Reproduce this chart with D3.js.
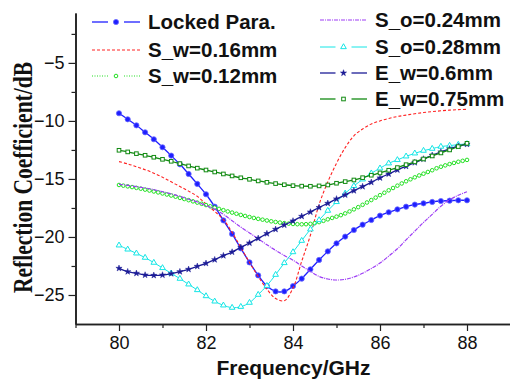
<!DOCTYPE html>
<html>
<head>
<meta charset="utf-8">
<script src="https://cdn.jsdelivr.net/npm/d3@7"></script>
<style>
  body { margin: 0; background: #fff; }
  svg text { font-family: "Liberation Sans", Arial, sans-serif; }
</style>
</head>
<body>
<svg id="chart" width="510" height="381"></svg>
<script>
// frequency grids (GHz)
var freq02 = d3.range(0, 41).map(i => +(80 + i * 0.2).toFixed(1));
var freq01 = d3.range(0, 81).map(i => +(80 + i * 0.1).toFixed(1));

// reflection coefficient values (dB)
var lockedPara = [-9.34,-9.86,-10.38,-10.98,-11.58,-12.27,-12.99,-13.74,-14.57,-15.43,
  -16.32,-17.39,-18.57,-19.74,-20.98,-22.19,-23.31,-24.23,-24.69,-24.69,
  -24.23,-23.59,-22.79,-21.98,-21.24,-20.55,-19.97,-19.40,-18.94,-18.54,
  -18.16,-17.87,-17.62,-17.39,-17.21,-17.10,-16.98,-16.90,-16.87,-16.84,-16.84];
var sw016 = [-13.51,-13.70,-13.95,-14.20,-14.50,-14.85,-15.25,-15.65,-16.05,-16.50,
  -17.15,-17.80,-18.50,-19.60,-20.90,-22.20,-23.40,-24.50,-25.30,-25.50,
  -24.40,-22.10,-19.85,-17.20,-15.25,-13.65,-12.30,-11.28,-10.70,-10.27,
  -10.00,-9.79,-9.62,-9.50,-9.38,-9.28,-9.20,-9.13,-9.07,-9.03,-9.00];
var sw012 = [-15.52,-15.58,-15.64,-15.70,-15.77,-15.84,-15.92,-16.00,-16.08,-16.16,
  -16.25,-16.34,-16.43,-16.53,-16.63,-16.73,-16.83,-16.93,-17.04,-17.14,
  -17.25,-17.36,-17.47,-17.58,-17.69,-17.80,-17.90,-18.00,-18.10,-18.19,
  -18.28,-18.36,-18.44,-18.51,-18.58,-18.65,-18.71,-18.76,-18.81,-18.85,
  -18.88,-18.90,-18.91,-18.90,-18.87,-18.81,-18.72,-18.61,-18.48,-18.36,
  -18.25,-18.12,-17.97,-17.80,-17.62,-17.43,-17.23,-17.03,-16.82,-16.61,
  -16.40,-16.19,-15.98,-15.78,-15.58,-15.39,-15.20,-15.03,-14.86,-14.70,
  -14.55,-14.40,-14.25,-14.08,-13.95,-13.83,-13.72,-13.62,-13.52,-13.44,-13.36];
var so024 = [-15.46,-15.55,-15.66,-15.78,-15.92,-16.10,-16.28,-16.50,-16.75,-16.98,
  -17.30,-17.60,-18.05,-18.60,-19.15,-19.65,-20.15,-20.67,-21.15,-21.60,
  -22.00,-22.50,-22.98,-23.40,-23.62,-23.71,-23.65,-23.45,-23.13,-22.72,
  -22.25,-21.65,-21.02,-20.25,-19.50,-18.75,-18.05,-17.35,-16.80,-16.40,-16.10];
var so028 = [-20.72,-21.07,-21.41,-21.78,-22.21,-22.67,-23.13,-23.59,-24.08,-24.57,
  -25.09,-25.55,-25.89,-26.09,-26.01,-25.66,-24.97,-24.20,-23.25,-22.24,
  -21.30,-20.32,-19.34,-18.54,-17.73,-16.98,-16.24,-15.60,-15.03,-14.51,
  -14.08,-13.65,-13.36,-13.05,-12.79,-12.56,-12.39,-12.21,-12.13,-12.04,-11.98];
var ew06 = [-22.70,-22.99,-23.13,-23.28,-23.31,-23.28,-23.16,-22.99,-22.79,-22.53,
  -22.27,-21.96,-21.61,-21.30,-20.89,-20.52,-20.12,-19.71,-19.34,-18.97,
  -18.62,-18.22,-17.85,-17.46,-17.10,-16.72,-16.38,-16.01,-15.66,-15.29,
  -14.91,-14.57,-14.22,-13.91,-13.59,-13.28,-12.96,-12.67,-12.41,-12.18,-12.01];
var ew075 = [-12.53,-12.67,-12.82,-12.96,-13.13,-13.31,-13.48,-13.68,-13.88,-14.07,
  -14.23,-14.40,-14.57,-14.74,-14.90,-15.03,-15.17,-15.29,-15.40,-15.50,
  -15.58,-15.62,-15.63,-15.60,-15.52,-15.37,-15.23,-15.09,-14.89,-14.68,
  -14.48,-14.25,-14.02,-13.77,-13.53,-13.28,-13.02,-12.76,-12.50,-12.21,-11.93];

var xTicks = [80, 82, 84, 86, 88];
var yTicks = [-25, -20, -15, -10, -5];

var series = [
  {name:'Locked Para.', x:freq02, y:lockedPara, color:'#1f1fff', width:1.3, dash:null, marker:'circleFill', col:0},
  {name:'S_w=0.16mm', x:freq02, y:sw016, color:'#ff2222', width:1.1, dash:'3,2', marker:null, col:0},
  {name:'S_w=0.12mm', x:freq01, y:sw012, color:'#22e022', width:1.1, dash:'1,1.5', marker:'circle', col:0},
  {name:'S_o=0.24mm', x:freq02, y:so024, color:'#9d3cf5', width:1.2, dash:'4,1,1,1', marker:null, col:1},
  {name:'S_o=0.28mm', x:freq02, y:so028, color:'#14e6e6', width:1, dash:null, marker:'triangle', col:1},
  {name:'E_w=0.6mm', x:freq02, y:ew06, color:'#1c1c96', width:1.3, dash:null, marker:'star', col:1},
  {name:'E_w=0.75mm', x:freq02, y:ew075, color:'#128a12', width:1.3, dash:null, marker:'square', col:1}
];

var svg = d3.select('#chart');
var xPram = d3.scaleLinear().domain([79, 89]).range([75.5, 510.5]);
var yPram = d3.scaleLinear().domain([-27.5, -0.7]).range([324, 13]);

// axes
var xAxis = d3.axisBottom(xPram).tickValues(xTicks).tickFormat(d3.format('d')).tickSize(7).tickSizeOuter(0).tickPadding(5);
var xMinor = d3.axisBottom(xPram).tickValues([79, 81, 83, 85, 87]).tickFormat('').tickSize(4).tickSizeOuter(0);
var yAxis = d3.axisLeft(yPram).tickValues(yTicks).tickFormat(d3.format('d')).tickSize(7).tickSizeOuter(0).tickPadding(4);
var yMinor = d3.axisLeft(yPram).tickValues([-2.5, -7.5, -12.5, -17.5, -22.5]).tickFormat('').tickSize(4).tickSizeOuter(0);

function styleAxis(g) {
  g.selectAll('path').attr('stroke', '#222').attr('stroke-width', 1.6);
  g.selectAll('line').attr('stroke', '#222').attr('stroke-width', 1.2);
  g.selectAll('text').attr('font-size', 18).attr('fill', '#111')
    .attr('font-family', '"Liberation Sans", Arial, sans-serif');
}
svg.append('g').attr('transform', 'translate(0,324)').call(xMinor).call(styleAxis);
svg.append('g').attr('transform', 'translate(0,324)').call(xAxis).call(styleAxis);
svg.append('g').attr('transform', 'translate(75.5,0)').call(yMinor).call(styleAxis);
svg.append('g').attr('transform', 'translate(75.5,0)').call(yAxis).call(styleAxis);

// axis titles
svg.append('text').attr('x', 293.5).attr('y', 375).attr('text-anchor', 'middle')
  .attr('font-size', 21).attr('font-weight', 'bold').attr('fill', '#111').text('Frequency/GHz');
svg.append('text').attr('transform', 'translate(32,177.5) rotate(-90)').attr('text-anchor', 'middle')
  .style('font-family', '"Liberation Serif", "Times New Roman", serif')
  .attr('font-size', 27).attr('font-weight', 'bold').attr('fill', '#111')
  .attr('textLength', 231).attr('lengthAdjust', 'spacingAndGlyphs')
  .text('Reflection Coefficient/dB');

function drawMarker(g, type, color, cx, cy) {
  if (!type) return;
  if (type == 'circleFill') {
    g.append('circle').attr('cx', cx).attr('cy', cy).attr('r', 2.6)
      .attr('fill', color).attr('stroke', '#6a6aff').attr('stroke-width', 0.8);
  } else if (type == 'circle') {
    g.append('circle').attr('cx', cx).attr('cy', cy).attr('r', 1.8)
      .attr('fill', '#fff').attr('stroke', color).attr('stroke-width', 1);
  } else if (type == 'square') {
    g.append('rect').attr('x', cx - 1.8).attr('y', cy - 1.8).attr('width', 3.6).attr('height', 3.6)
      .attr('fill', '#fff').attr('stroke', color).attr('stroke-width', 1);
  } else if (type == 'triangle') {
    g.append('path').attr('transform', 'translate(' + cx + ',' + cy + ')')
      .attr('d', d3.symbol(d3.symbolTriangle, 14)())
      .attr('fill', '#fff').attr('stroke', color).attr('stroke-width', 1);
  } else if (type == 'star') {
    g.append('path').attr('transform', 'translate(' + cx + ',' + cy + ')')
      .attr('d', d3.symbol(d3.symbolStar, 12)())
      .attr('fill', color).attr('stroke', color).attr('stroke-width', 0.5);
  }
}

var line = d3.line()
  .x(d => xPram(d.f))
  .y(d => yPram(d.v))
  .curve(d3.curveCatmullRom.alpha(0.5));

var plot = svg.append('g');
series.forEach(s => {
  var pts = s.x.map((f, i) => ({f: f, v: s.y[i]}));
  var g = plot.append('g');
  g.append('path').datum(pts).attr('d', line)
    .attr('fill', 'none').attr('stroke', s.color).attr('stroke-width', s.width)
    .attr('stroke-dasharray', s.dash);
  pts.forEach(p => drawMarker(g, s.marker, s.color, xPram(p.f), yPram(p.v)));
});

// legend
var legRows = [[22, 50, 76], [20, 47, 73, 99]];
var legX = [[92, 140, 148], [320, 367, 375]];
var counters = [0, 0];
series.forEach(s => {
  var c = s.col;
  var y = legRows[c][counters[c]++];
  var x0 = legX[c][0], x1 = legX[c][1], mid = (x0 + x1) / 2;
  var g = svg.append('g');
  var segs = s.marker ? [[x0, mid - 8], [mid + 8, x1]] : [[x0, x1]];
  segs.forEach(sg => {
    g.append('line').attr('x1', sg[0]).attr('x2', sg[1]).attr('y1', y).attr('y2', y)
      .attr('stroke', s.color).attr('stroke-width', s.width).attr('stroke-dasharray', s.dash);
  });
  drawMarker(g, s.marker, s.color, mid, y);
  g.append('text').attr('x', legX[c][2]).attr('y', y + 7).attr('font-size', 20.5)
    .attr('font-weight', 'bold').attr('fill', '#111').text(s.name);
});
</script>
</body>
</html>
